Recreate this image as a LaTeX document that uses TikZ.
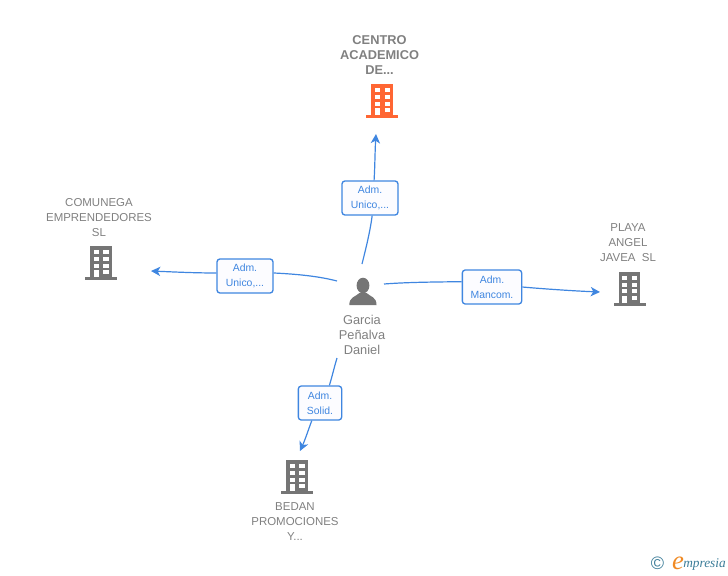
\documentclass[tikz,border=0pt]{standalone}
\usepackage{fontspec}
\setmainfont{Liberation Sans}
\newfontfamily\logofont{Liberation Serif}
\usetikzlibrary{arrows.meta}
\definecolor{linkblue}{HTML}{3F86E0}
\definecolor{namegray}{HTML}{808080}
\definecolor{iconorange}{HTML}{FF6633}
\definecolor{icongray}{HTML}{757575}
\definecolor{logoteal}{HTML}{3B7C98}
\definecolor{logoorange}{HTML}{F08A24}
% #1 colour, #2 centre x, #3 top y
\newcommand{\building}[3]{
    \fill[#1] ( #2-10.9 , #3 ) rectangle ( #2+10.9 , #3+32 );
    \fill[#1] ( #2-16 , #3+31 ) rectangle ( #2+16 , #3+34 );
    \fill[white] ( #2-7.5 , #3+4 ) rectangle ( #2-2.3 , #3+8 );
    \fill[white] ( #2+2.3 , #3+4 ) rectangle ( #2+7.5 , #3+8 );
    \fill[white] ( #2-7.5 , #3+11 ) rectangle ( #2-2.3 , #3+15 );
    \fill[white] ( #2+2.3 , #3+11 ) rectangle ( #2+7.5 , #3+15 );
    \fill[white] ( #2-7.5 , #3+17.5 ) rectangle ( #2-2.3 , #3+21.5 );
    \fill[white] ( #2+2.3 , #3+17.5 ) rectangle ( #2+7.5 , #3+21.5 );
    \fill[white] ( #2-7.5 , #3+24 ) rectangle ( #2-2.3 , #3+31 );
    \fill[white] ( #2+2.3 , #3+24 ) rectangle ( #2+7.5 , #3+28 );
}
\tikzset{
    company/.style={text=namegray, align=center, inner sep=0pt, font=\fontsize{8.6}{11.25}\selectfont},
    person/.style={text=namegray, align=center, inner sep=0pt, font=\fontsize{9.6}{11.25}\selectfont},
    rolebox/.style={draw=linkblue, line width=1pt, rounded corners=2.2pt, fill=blue!1, text=linkblue, align=center, inner sep=0pt, font=\fontsize{7.8}{11.25}\selectfont, execute at begin node=\rule{0pt}{10pt}},
    link/.style={draw=linkblue, line width=.9pt},
    linkto/.style={link, -{Stealth[length=7pt,width=7pt,inset=2pt]}}
}
\begin{document}
\begin{tikzpicture}[x=0.75pt,y=-0.75pt]
    \useasboundingbox (0,0) rectangle (728,575);

    \building{iconorange}{382.2}{84}
    \building{icongray}{101}{246}
    \building{icongray}{629.5}{271.5}
    \building{icongray}{297}{460}

    \fill[icongray] (363,285.5) ellipse (6.4 and 7.8);
    \fill[icongray] (349.3,305) .. controls (349.3,297) and (355,297) .. (359.5,293) -- (366.5,293) .. controls (371,297) and (376.5,297) .. (376.5,305) -- cycle;

    \node[company, font=\fontsize{9.6}{11.25}\selectfont\bfseries] (academico) at (379.5,55) {CENTRO\\ACADEMICO\\DE...};
    \node[company] (comunega) at (99,217.8) {COMUNEGA\\EMPRENDEDORES\\SL};
    \node[company] (playa) at (628,242.8) {PLAYA\\ANGEL\\JAVEA\ \ SL};
    \node[company] (bedan) at (295,521.8) {BEDAN\\PROMOCIONES\\Y...};
    \node[person] (garcia) at (362,335) {Garcia\\Peñalva\\Daniel};

    \node[rolebox, minimum width=42pt, minimum height=25.5pt] (roleTop) at (370,198) {Adm.\\Unico,...};
    \node[rolebox, minimum width=42pt, minimum height=25.5pt] (roleLeft) at (245,276) {Adm.\\Unico,...};
    \node[rolebox, minimum width=44.5pt, minimum height=25.5pt] (roleRight) at (492,287) {Adm.\\Mancom.};
    \node[rolebox, minimum width=32.5pt, minimum height=25.5pt] (roleDown) at (320,403) {Adm.\\Solid.};

    \coordinate (fromTop) at (362,264);
    \coordinate (fromLeft) at (337,281);
    \coordinate (fromRight) at (384,284);
    \coordinate (fromDown) at (337,358);
    \coordinate (toTop) at (376,134);
    \coordinate (toLeft) at (151,271);
    \coordinate (toRight) at (600,292);
    \coordinate (toDown) at (300,451);

    \draw[link] (fromTop) .. controls (366,248) and (370,232) .. (roleTop.-83);
    \draw[linkto] (roleTop.77) .. controls (375,165) and (375,150) .. (toTop);
    \draw[link] (fromLeft) .. controls (318,276) and (295,274) .. (roleLeft.6);
    \draw[linkto] (roleLeft.174) .. controls (195,273) and (175,272) .. (toLeft);
    \draw[link] (fromRight) .. controls (410,282) and (440,282) .. (roleRight.170);
    \draw[linkto] (roleRight.east) .. controls (545,289) and (575,291) .. (toRight);
    \draw[link] (fromDown) .. controls (334,368) and (332,377) .. (roleDown.62);
    \draw[linkto] (roleDown.-115) .. controls (309,428) and (305,440) .. (toDown);

    % logo
    \node[text=logoteal, inner sep=0pt, font=\fontsize{13.5}{15}\selectfont] (copyright) at (657.5,563) {©};
    \node[text=logoorange, inner sep=0pt, font=\fontsize{20}{20}\logofont\itshape\selectfont] (logoe) at (678,563) {e};
    \node[text=logoteal, inner sep=0pt, anchor=west, font=\fontsize{10}{12}\logofont\itshape\selectfont] (logotext) at (683,564) {mpresia};
\end{tikzpicture}
\end{document}
